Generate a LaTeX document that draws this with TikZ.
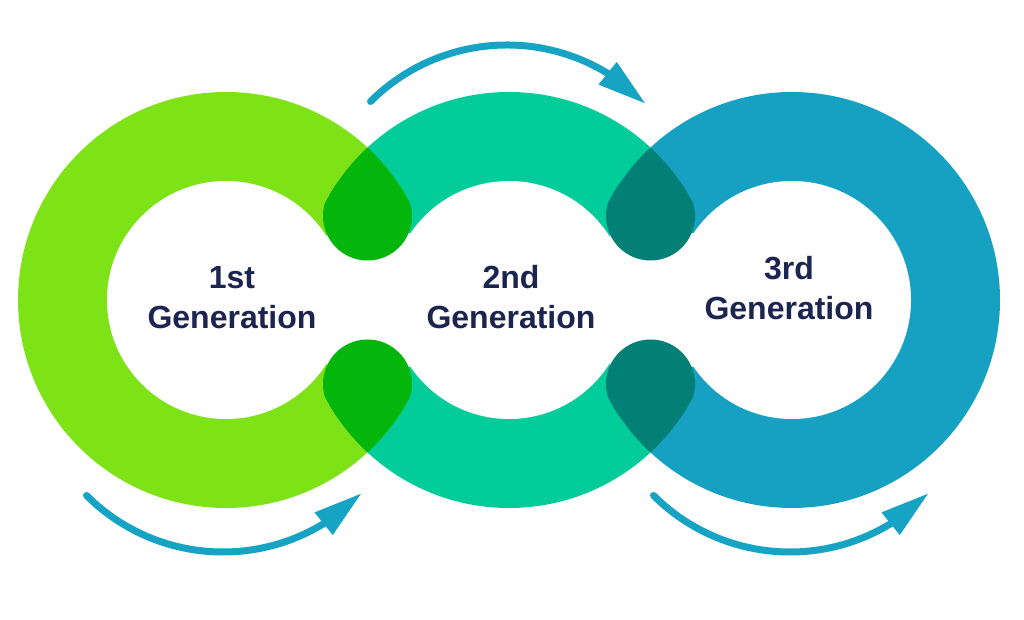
\documentclass[tikz,border=0pt]{standalone}
\usepackage{fontspec}
\setmainfont{Liberation Sans}
\usepackage{xcolor}
\usetikzlibrary{arrows.meta,bending}
\definecolor{ringA}{HTML}{7DE316}
\definecolor{ringB}{HTML}{03CC9B}
\definecolor{ringC}{HTML}{16A1C3}
\definecolor{dropA}{HTML}{04B50C}
\definecolor{dropB}{HTML}{028076}
\definecolor{genText}{HTML}{1B254F}
\definecolor{turnCol}{HTML}{16A3C4}
\tikzset{>={Triangle[length=49pt,width=27pt]}}
\tikzset{
	genlabel/.style={align=center,text=genText,font=\fontsize{32}{40}\selectfont\bfseries},
	turn/.style={draw=turnCol,line width=7pt,line cap=round,->}
}

\begin{document}
\begin{tikzpicture}[x=1pt,y=1pt]
		\def \R{208};
		\def \r{119};
		\def \d{44.5};
		\useasboundingbox (0,0) rectangle (1024,620);
		\coordinate (c1) at (226, 320);
		\coordinate (c2) at (509, 320);
		\coordinate (c3) at (792, 320);
		\coordinate (t12) at (367.5, 404);
		\coordinate (b12) at (367.5, 236);
		\coordinate (t23) at (650.5, 404);
		\coordinate (b23) at (650.5, 236);
		% rings
		\fill[ringA] (c1) circle[radius=\R];
		\begin{scope}
			\clip (367.5,0) rectangle (1024,620);
			\fill[ringB] (c2) circle[radius=\R];
		\end{scope}
		\begin{scope}
			\clip (650.5,0) rectangle (1024,620);
			\fill[ringC] (c3) circle[radius=\R];
		\end{scope}
		\foreach \c in {c1,c2,c3}
			\fill[white] (\c) circle[radius=\r];
		\fill[white] (327,253) rectangle (410,387);
		\fill[white] (610,253) rectangle (693,387);
		% overlaps
		\begin{scope}
			\clip (c1) circle[radius=\R];
			\clip (c2) circle[radius=\R];
			\fill[dropA] (t12) circle[radius=\d];
			\fill[dropA] (300,426) rectangle (440,620);
			\fill[dropA] (b12) circle[radius=\d];
			\fill[dropA] (300,0) rectangle (440,214);
		\end{scope}
		\begin{scope}
			\clip (c2) circle[radius=\R];
			\clip (c3) circle[radius=\R];
			\fill[dropB] (t23) circle[radius=\d];
			\fill[dropB] (583,426) rectangle (723,620);
			\fill[dropB] (b23) circle[radius=\d];
			\fill[dropB] (583,0) rectangle (723,214);
		\end{scope}
		\node[genlabel] (gen1) at (232, 322.5) {1st\\Generation};
		\node[genlabel] (gen2) at (511, 322.5) {2nd\\Generation};
		\node[genlabel] (gen3) at (789, 332) {3rd\\Generation};
		% arrows
		\coordinate (arcA) at (223, 261);
		\coordinate (arcB) at (507, 382);
		\coordinate (arcC) at (790, 261);
		\draw[turn] ([shift={(225:193)}]arcA) arc[start angle=225,end angle=316,radius=193];
		\draw[turn] ([shift={(135:193)}]arcB) arc[start angle=135,end angle=44,radius=193];
		\draw[turn] ([shift={(225:193)}]arcC) arc[start angle=225,end angle=316,radius=193];
	\end{tikzpicture}
\end{document}
